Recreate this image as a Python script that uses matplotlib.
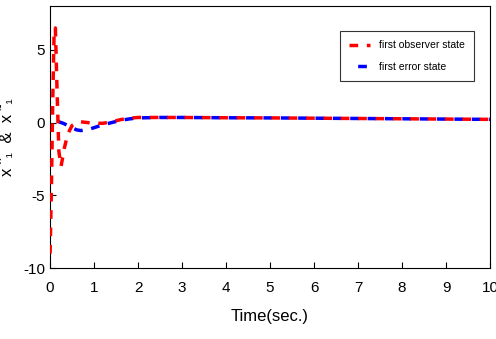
import matplotlib
matplotlib.use("Agg")
import matplotlib.pyplot as plt
from matplotlib import font_manager

names = {f.name for f in font_manager.fontManager.ttflist}
font = "Liberation Sans Narrow" if "Liberation Sans Narrow" in names else "Liberation Sans"
plt.rcParams['font.family'] = [font, 'DejaVu Sans']
plt.rcParams['axes.unicode_minus'] = False

# first observer state (red)
t_obs = [0, 0.03, 0.06, 0.09, 0.12, 0.16, 0.2, 0.25, 0.32, 0.4, 0.5, 0.6, 0.7, 0.85, 1.0,
         1.2, 1.4, 1.6, 1.8, 2.0, 2.5, 3, 4, 5, 6, 7, 8, 9, 10]
x_obs = [-9.0, -4.5, 1.5, 6.0, 6.5, 2.0, -2.0, -3.0, -1.8, -0.8, -0.2, 0.0, 0.05, 0.0, -0.05,
         -0.05, 0.05, 0.2, 0.3, 0.35, 0.35, 0.35, 0.33, 0.32, 0.3, 0.28, 0.26, 0.24, 0.22]

# first error state (blue)
t_err = [0, 0.1, 0.2, 0.3, 0.4, 0.5, 0.6, 0.7, 0.8, 0.9, 1.0, 1.2, 1.4, 1.6, 1.8,
         2.0, 2.5, 3, 4, 5, 6, 7, 8, 9, 10]
x_err = [0.0, 0.1, 0.05, -0.05, -0.2, -0.35, -0.5, -0.55, -0.5, -0.45, -0.35, -0.15, 0.0, 0.15, 0.25,
         0.32, 0.35, 0.35, 0.33, 0.32, 0.3, 0.28, 0.26, 0.24, 0.22]

fig = plt.figure(figsize=(4.96, 3.39), dpi=100)
ax = fig.add_axes([0.101, 0.209, 0.887, 0.773])

ax.plot(t_obs, x_obs, color='red', linestyle=(0, (2.5, 2.5)), linewidth=2.5,
        label='first observer state', zorder=3)
ax.plot(t_err, x_err, color='blue', linestyle=(2.5, (2.5, 2.5)), linewidth=2.5,
        label='first error state', zorder=2)

ax.set_xlim(0, 10)
ax.set_ylim(-10, 8)
ax.set_xticks(range(0, 11))
ax.set_yticks([-10, -5, 0, 5])
ax.tick_params(direction='in', length=4, labelsize=11, top=False, right=False)
ax.tick_params(axis='x', pad=9)
ax.set_xlabel('Time(sec.)', fontsize=12, labelpad=10)
ax.set_ylabel('x \u02c6\u2081  &  x \u02dc\u2081', fontsize=12, labelpad=6)

leg = ax.legend(loc='upper right', bbox_to_anchor=(0.975, 0.925), fontsize=7.5, frameon=True,
                fancybox=False, edgecolor='black', handlelength=2.0, borderpad=0.9,
                labelspacing=1.1, handletextpad=0.8)
leg.get_frame().set_linewidth(0.8)

plt.savefig('out.png', dpi=100)
